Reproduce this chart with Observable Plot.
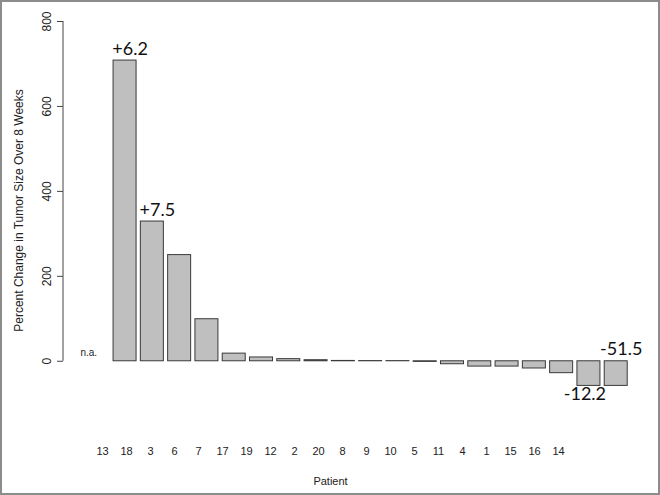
<!DOCTYPE html>
<html><head><meta charset="utf-8">
<script src="https://cdn.jsdelivr.net/npm/d3@7"></script>
<script src="https://cdn.jsdelivr.net/npm/@observablehq/plot@0.6"></script>
<style>
body{margin:0;background:#fff;}
#wrap{position:relative;width:660px;height:495px;overflow:hidden;background:#fff;}
#wrap svg{display:block;}
#border{position:absolute;left:0;top:0;width:660px;height:495px;box-sizing:border-box;border:2px solid #8c8c8c;pointer-events:none;}
</style></head><body><div id="wrap"><div id="border"></div></div>
<script>
// ---- data ----
const patients = ["13","18","3","6","7","17","19","12","2","20","8","9","10","5","11","4","1","15","16","14"];
const changes  = [null,708,329,250,99,18,9,5,2.5,0.8,0.5,0.4,-1.5,-7,-12.5,-12.5,-17,-28,-58,-58];
const yTicks = [0,200,400,600,800];
const naPatients = ["13"];
const naText = ["n.a."];
const noteAbovePatients = ["18","3","14"];
const noteAboveText = ["+6.2","+7.5","-51.5"];
const noteBelowPatients = ["16"];
const noteBelowText = ["-12.2"];
const yTitle = "Percent Change in Tumor Size Over 8 Weeks";
const xTitle = "Patient";

// ---- derived tables ----
const rows = patients.map((p,i)=>({patient:p, value:changes[i]}));
const valueOf = p => changes[patients.indexOf(p)];
const naRows = naPatients.map((p,i)=>({patient:p, label:naText[i]}));
const aboveRows = noteAbovePatients.map((p,i)=>({patient:p, label:noteAboveText[i], value:valueOf(p)}));
const belowRows = noteBelowPatients.map((p,i)=>({patient:p, label:noteBelowText[i], value:valueOf(p)}));

const sans = "'Liberation Sans', Arial, sans-serif";
const mLeft = 63;

const main = Plot.plot({
  width:660, height:430,
  marginTop:21, marginBottom:31, marginLeft:mLeft, marginRight:10,
  style:{fontFamily:sans, fontSize:"12px", color:"#222", background:"transparent"},
  x:{domain:patients, paddingInner:0.157, paddingOuter:0.835, round:false, axis:null},
  y:{domain:[-90,800]},
  marks:[
    Plot.axisY({ticks:yTicks, tickSize:6, tickRotate:-90, tickPadding:7, tickFormat:d=>String(d),
      label:yTitle, labelAnchor:"center", labelOffset:49, labelArrow:"none", fontSize:12, stroke:"#444"}),
    Plot.barY(rows.filter(d=>d.value!=null), {x:"patient", y:"value", fill:"#bfbfbf", stroke:"#3a3a3a", strokeWidth:1}),
    Plot.text(naRows, {x:"patient", y:()=>0, text:"label", dx:-9, dy:-8, fontSize:10, fill:"#222"}),
    Plot.text(aboveRows, {x:"patient", y:d=>Math.max(0,d.value), text:"label", lineAnchor:"bottom", dx:5, dy:-6,
      fontSize:18, fontFamily:"Lato, 'Open Sans', sans-serif", fill:"#111"}),
    Plot.text(belowRows, {x:"patient", y:"value", text:"label", lineAnchor:"top", dx:-4, dy:1,
      fontSize:18, fontFamily:"Lato, 'Open Sans', sans-serif", fill:"#111"})
  ]
});
// y axis domain line (from 0 to 800), using the plot's own y scale
const ys = main.scale("y");
d3.select(main).append("line")
  .attr("x1", mLeft).attr("x2", mLeft)
  .attr("y1", ys.apply(yTicks[0])).attr("y2", ys.apply(yTicks[yTicks.length-1]))
  .attr("stroke", "#444").attr("stroke-width", 1);

const labels = Plot.plot({
  width:660, height:65,
  marginTop:0, marginBottom:51, marginLeft:96, marginRight:96,
  style:{fontFamily:sans, fontSize:"11px", color:"#222", background:"transparent"},
  x:{type:"point", domain:patients, padding:0},
  marks:[
    Plot.axisX({tickSize:0, tickPadding:3, label:xTitle, labelAnchor:"center", labelOffset:40, labelArrow:"none", fontSize:11})
  ]
});

const wrap = document.getElementById("wrap");
wrap.insertBefore(labels, wrap.firstChild);
wrap.insertBefore(main, wrap.firstChild);
</script>
</body></html>
